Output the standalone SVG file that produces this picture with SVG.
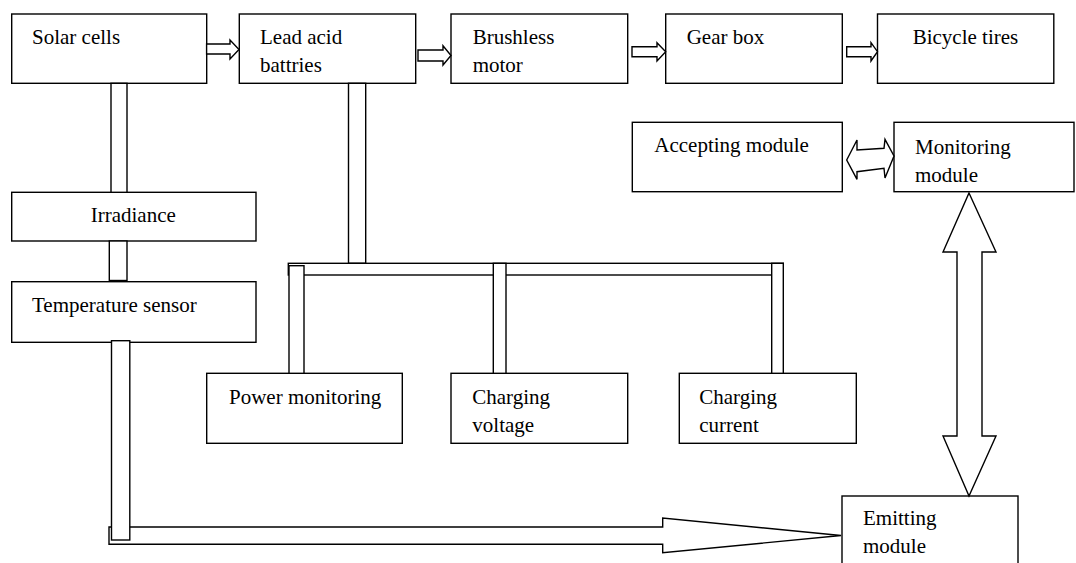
<svg xmlns="http://www.w3.org/2000/svg" width="1076" height="563" viewBox="0 0 1076 563">
<style>
.box{fill:#fff;stroke:#000;stroke-width:1.4}
.c{fill:#fff;stroke:#000;stroke-width:1.4;stroke-linejoin:miter}
text{font-family:"Liberation Serif","Times New Roman",serif;font-size:21px;fill:#000}
</style>
<rect width="1076" height="563" fill="#fff"/>
<g id="solar-cells"><rect class="box" x="11.7" y="14" width="195" height="69.3"/><text x="32" y="44">Solar cells</text></g>
<g id="lead-acid"><rect class="box" x="239.3" y="14" width="176.4" height="69.3"/><text x="260" y="44">Lead acid</text><text x="260" y="72">battries</text></g>
<g id="brushless-motor"><rect class="box" x="451" y="14" width="176.7" height="69.3"/><text x="472.7" y="43.5">Brushless</text><text x="472.7" y="71.7">motor</text></g>
<g id="gear-box"><rect class="box" x="665.7" y="14" width="176.6" height="69.3"/><text x="686.7" y="43.5">Gear box</text></g>
<g id="bicycle-tires"><rect class="box" x="877.5" y="14" width="176.3" height="69.3"/><text x="912.7" y="43.5">Bicycle tires</text></g>
<g id="accepting-module"><rect class="box" x="632.3" y="122.3" width="210" height="69.4"/><text x="654.3" y="152.3">Accepting module</text></g>
<g id="monitoring-module"><rect class="box" x="894" y="122.3" width="180" height="69.4"/><text x="915" y="154">Monitoring</text><text x="915" y="181.5">module</text></g>
<g id="irradiance"><rect class="box" x="11.7" y="192.3" width="244.3" height="48.7"/><text x="90.7" y="221.7">Irradiance</text></g>
<g id="temperature-sensor"><rect class="box" x="11.7" y="281.7" width="244.3" height="60.6"/><text x="32" y="311.7">Temperature sensor</text></g>
<g id="power-monitoring"><rect class="box" x="206.7" y="373.3" width="195.6" height="70"/><text x="229" y="404">Power monitoring</text></g>
<g id="charging-voltage"><rect class="box" x="451" y="373.3" width="176.7" height="70"/><text x="472.3" y="404">Charging</text><text x="472.3" y="431.7">voltage</text></g>
<g id="charging-current"><rect class="box" x="679.3" y="373.3" width="177" height="70"/><text x="699.3" y="404">Charging</text><text x="699.3" y="431.7">current</text></g>
<g id="emitting-module"><rect class="box" x="842" y="496" width="176" height="80"/><text x="863" y="525">Emitting</text><text x="863" y="553">module</text></g>
<g id="connectors">
<polygon class="c" points="206.6,44 230,44 230,40 239,49.5 230,59 230,54 206.6,54"/>
<polygon class="c" points="418,50 443,50 443,45.7 451,55.5 443,65 443,61 418,61"/>
<polygon class="c" points="632,46.7 657,46.7 657,42.7 665.7,51.7 657,61 657,56.7 632,56.7"/>
<polygon class="c" points="846.7,46.7 871,46.7 871,42.7 877.5,51.7 871,61 871,56.7 846.7,56.7"/>
<polygon class="c" points="846.7,160 857,140 857,150 884,148.3 885,139.3 894,156 885,178 884,168.3 857,171.7 857,179.3"/>
<polygon class="c" points="969,193 996,252 982,252 982,436 996,436 969,496 943,436 957,436 957,252 943,252"/>
<rect class="c" x="111" y="83.3" width="16" height="109"/>
<rect class="c" x="109.3" y="241" width="17.7" height="39.5"/>
<rect class="c" x="348.5" y="83.3" width="17.2" height="180"/>
<rect class="c" x="288.3" y="263.3" width="495" height="11.7"/>
<rect class="c" x="289" y="265.7" width="15" height="107.6"/>
<rect class="c" x="493.3" y="263.3" width="12.7" height="110"/>
<rect class="c" x="771.7" y="263.3" width="11.6" height="110"/>
<polygon class="c" points="109,527 662.7,527 662.7,518 841,535.5 662.7,552.7 662.7,544.3 109,544.3"/>
<rect class="c" x="111.5" y="340.7" width="18.3" height="199.3"/>
</g>
</svg>
